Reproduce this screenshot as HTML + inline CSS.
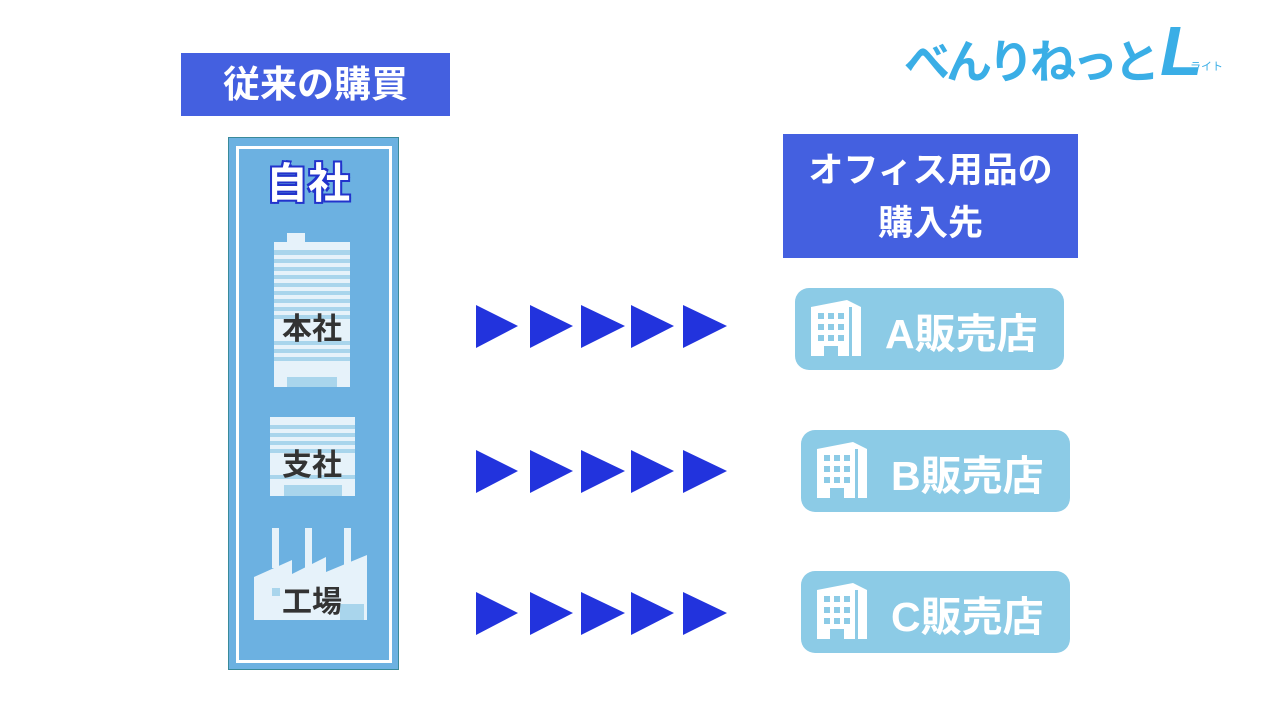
<!DOCTYPE html>
<html><head><meta charset="utf-8"><style>
body{margin:0;width:1280px;height:720px;background:#fff;position:relative;overflow:hidden;font-family:"Liberation Sans","Noto Sans CJK JP",sans-serif}
.abs{position:absolute}
.hdr{background:#4460e0;color:#fff;font-weight:bold;text-align:center}
.store{position:absolute;background:#8ccbe6;border-radius:14px;color:#fff;font-size:41px;font-weight:bold;height:82px;width:269px}
.store span{position:absolute;left:90px;top:22px;line-height:48px}
.store svg{position:absolute;left:14px;top:10px}
</style></head><body>
<div class="abs hdr" style="left:181px;top:53px;width:269px;height:63px;font-size:37px;line-height:63px">従来の購買</div>
<div class="abs" style="left:228px;top:137px;width:169px;height:531px;background:#6cb1e1;border:1px solid #3a8a9a"></div>
<div class="abs" style="left:236px;top:146px;width:150px;height:511px;border:3px solid #fff"></div>
<div class="abs" style="left:258px;top:158px;width:100px;text-align:center;font-size:42px;font-weight:bold;color:#fff;text-shadow:2px 2px 0 #2233cc,-2px -2px 0 #2233cc,2px -2px 0 #2233cc,-2px 2px 0 #2233cc;line-height:52px">自社</div>
<svg class="abs" style="left:0;top:0" width="1280" height="720">
<g fill="#e6f2fa">
<rect x="287" y="233" width="18" height="10"/>
<rect x="274" y="242" width="76" height="145"/>
<rect x="270" y="417" width="85" height="79"/>
<rect x="272" y="528" width="7" height="40"/><rect x="305" y="528" width="7" height="40"/><rect x="344" y="528" width="7" height="40"/>
<polygon points="254,620 254,577 292,560 292,574 326,557 326,572 367,555 367,620"/>
</g>
<g fill="#a9d5ec">
<rect x="274" y="250" width="76" height="5"/><rect x="274" y="259" width="76" height="4"/><rect x="274" y="267" width="76" height="4"/><rect x="274" y="275" width="76" height="4"/><rect x="274" y="283" width="76" height="4"/><rect x="274" y="291" width="76" height="4"/><rect x="274" y="299" width="76" height="4"/><rect x="274" y="307" width="76" height="4"/><rect x="274" y="315" width="76" height="4"/><rect x="274" y="341" width="76" height="4"/><rect x="274" y="349" width="76" height="4"/><rect x="274" y="357" width="76" height="4"/>
<rect x="287" y="377" width="50" height="10"/>
<rect x="270" y="425" width="85" height="4"/><rect x="270" y="433" width="85" height="4"/><rect x="270" y="441" width="85" height="4"/><rect x="270" y="449" width="85" height="4"/><rect x="270" y="475" width="85" height="4"/>
<rect x="284" y="485" width="58" height="11"/>
<rect x="272" y="588" width="8" height="8"/><rect x="340" y="604" width="24" height="16"/>
</g>
<g fill="#2233dd">
<polygon points="476,305 518,326 476,348"/><polygon points="530,305 573,326 530,348"/><polygon points="581,305 625,326 581,348"/><polygon points="631,305 674,326 631,348"/><polygon points="683,305 727,326 683,348"/>
<polygon points="476,450 518,471 476,493"/><polygon points="530,450 573,471 530,493"/><polygon points="581,450 625,471 581,493"/><polygon points="631,450 674,471 631,493"/><polygon points="683,450 727,471 683,493"/>
<polygon points="476,592 518,613 476,635"/><polygon points="530,592 573,613 530,635"/><polygon points="581,592 625,613 581,635"/><polygon points="631,592 674,613 631,635"/><polygon points="683,592 727,613 683,635"/>
</g>
</svg>
<div class="abs" style="left:262px;top:312px;width:100px;text-align:center;font-size:30px;font-weight:bold;color:#333;line-height:36px">本社</div>
<div class="abs" style="left:262px;top:448px;width:100px;text-align:center;font-size:30px;font-weight:bold;color:#333;line-height:36px">支社</div>
<div class="abs" style="left:262px;top:585px;width:100px;text-align:center;font-size:30px;font-weight:bold;color:#333;line-height:36px">工場</div>
<div class="abs hdr" style="left:783px;top:134px;width:295px;height:124px;font-size:35px;line-height:53px;padding-top:10px;box-sizing:border-box">オフィス用品の<br>購入先</div>
<div class="store" style="left:795px;top:288px"><svg width="56" height="62"><polygon points="2,9 38,2 52,9 52,58 2,58" fill="#fff"/><g fill="#8ccbe6"><rect x="9" y="15" width="6" height="6"/><rect x="19" y="15" width="6" height="6"/><rect x="29" y="15" width="6" height="6"/><rect x="9" y="26" width="6" height="6"/><rect x="19" y="26" width="6" height="6"/><rect x="29" y="26" width="6" height="6"/><rect x="9" y="37" width="6" height="6"/><rect x="19" y="37" width="6" height="6"/><rect x="29" y="37" width="6" height="6"/><rect x="15" y="48" width="14" height="10"/><rect x="40" y="9" width="3" height="49"/></g></svg><span>A販売店</span></div>
<div class="store" style="left:801px;top:430px"><svg width="56" height="62"><polygon points="2,9 38,2 52,9 52,58 2,58" fill="#fff"/><g fill="#8ccbe6"><rect x="9" y="15" width="6" height="6"/><rect x="19" y="15" width="6" height="6"/><rect x="29" y="15" width="6" height="6"/><rect x="9" y="26" width="6" height="6"/><rect x="19" y="26" width="6" height="6"/><rect x="29" y="26" width="6" height="6"/><rect x="9" y="37" width="6" height="6"/><rect x="19" y="37" width="6" height="6"/><rect x="29" y="37" width="6" height="6"/><rect x="15" y="48" width="14" height="10"/><rect x="40" y="9" width="3" height="49"/></g></svg><span>B販売店</span></div>
<div class="store" style="left:801px;top:571px"><svg width="56" height="62"><polygon points="2,9 38,2 52,9 52,58 2,58" fill="#fff"/><g fill="#8ccbe6"><rect x="9" y="15" width="6" height="6"/><rect x="19" y="15" width="6" height="6"/><rect x="29" y="15" width="6" height="6"/><rect x="9" y="26" width="6" height="6"/><rect x="19" y="26" width="6" height="6"/><rect x="29" y="26" width="6" height="6"/><rect x="9" y="37" width="6" height="6"/><rect x="19" y="37" width="6" height="6"/><rect x="29" y="37" width="6" height="6"/><rect x="15" y="48" width="14" height="10"/><rect x="40" y="9" width="3" height="49"/></g></svg><span>C販売店</span></div>
<div class="abs" style="left:904px;top:32px;font-size:46px;font-weight:bold;color:#3aaee6;line-height:60px;letter-spacing:-4px">べんりねっと</div>
<div class="abs" style="left:1160px;top:16px;font-size:70px;font-weight:bold;font-style:italic;color:#3aaee6;line-height:70px">L</div>
<div class="abs" style="left:1190px;top:58px;font-size:11px;color:#3aaee6">ライト</div>
</body></html>
